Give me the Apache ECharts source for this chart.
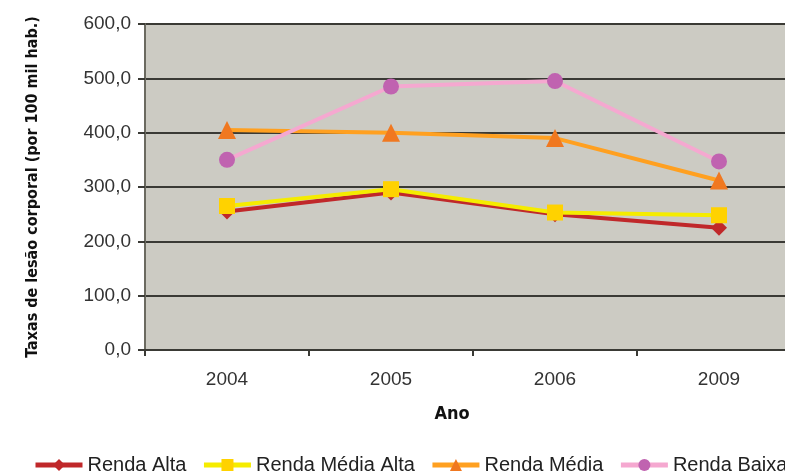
<!DOCTYPE html>
<html>
<head>
<meta charset="utf-8">
<script src="https://cdn.jsdelivr.net/npm/echarts@6/dist/echarts.min.js"></script>
<style>
  html, body { margin: 0; padding: 0; background: #fff; }
  #chart { width: 785px; height: 471px; }
</style>
</head>
<body>
<div id="chart"></div>
<script>
const years = ['2004', '2005', '2006', '2009']
const rendaAlta = [255, 290, 250, 225]
const rendaMediaAlta = [265, 296, 253, 248]
const rendaMedia = [405, 400, 390, 312]
const rendaBaixa = [350, 485, 495, 347]
const yTicks = { min: 0, max: 600, interval: 100 }

const chart = echarts.init(document.getElementById('chart'))

const labelFont = 'Liberation Sans, Arial, sans-serif'
const titleFont = '"DejaVu Sans Condensed", "Liberation Sans Narrow", sans-serif'

function line(name, data, lineColor, symbol, symbolColor, symbolSize) {
  return {
    name,
    type: 'line',
    data,
    symbol,
    symbolSize,
    lineStyle: { color: lineColor, width: 4 },
    itemStyle: { color: symbolColor, borderWidth: 0 },
    emphasis: { disabled: true }
  }
}

chart.setOption({
  animation: false,
  backgroundColor: '#ffffff',
  color: ['#c0282a', '#f5ec00', '#ffa020', '#f5a8d0'],
  grid: {
    show: true,
    left: 145, top: 24, width: 656, height: 326,
    outerBoundsMode: 'none',
    backgroundColor: '#cccbc3',
    borderWidth: 0
  },
  legend: {
    left: 28, top: 450, width: 1000,
    itemWidth: 47, itemHeight: 15, itemGap: 15,
    lineStyle: { width: 5 },
    textStyle: { fontFamily: labelFont, fontSize: 20, color: '#222' },
    data: ['Renda Alta', 'Renda Média Alta', 'Renda Média', 'Renda Baixa']
  },
  xAxis: {
    type: 'category',
    data: years,
    name: 'Ano',
    nameLocation: 'middle',
    nameGap: 55,
    nameTextStyle: {
      fontFamily: titleFont, fontWeight: 'bold', fontSize: 18, color: '#111',
      padding: [0, 42, 0, 0]
    },
    axisLine: { lineStyle: { color: '#3a3a35', width: 2 } },
    axisTick: { show: true, length: 6, lineStyle: { color: '#3a3a35', width: 2 } },
    axisLabel: { fontFamily: labelFont, fontSize: 19, color: '#333', margin: 20 }
  },
  yAxis: {
    type: 'value',
    min: yTicks.min, max: yTicks.max, interval: yTicks.interval,
    name: 'Taxas de lesão corporal (por 100 mil hab.)',
    nameLocation: 'middle',
    nameGap: 104,
    nameTextStyle: { fontFamily: titleFont, fontWeight: 'bold', fontSize: 16, color: '#111' },
    axisLine: { show: true, lineStyle: { color: '#6b6a60', width: 2 } },
    axisTick: { show: true, length: 7, lineStyle: { color: '#3a3a35', width: 2 } },
    axisLabel: {
      fontFamily: labelFont, fontSize: 19, color: '#333', margin: 14,
      formatter: v => v.toFixed(1).replace('.', ',')
    },
    splitLine: { lineStyle: { color: '#3a3a35', width: 2 } }
  },
  series: [
    line('Renda Alta', rendaAlta, '#c0282a', 'diamond', '#c0282a', 16),
    line('Renda Média Alta', rendaMediaAlta, '#f5ec00', 'rect', '#ffd200', 16),
    line('Renda Média', rendaMedia, '#ffa020', 'triangle', '#f07820', 18),
    line('Renda Baixa', rendaBaixa, '#f5a8d0', 'circle', '#c063b0', 16)
  ]
})
</script>
</body>
</html>
